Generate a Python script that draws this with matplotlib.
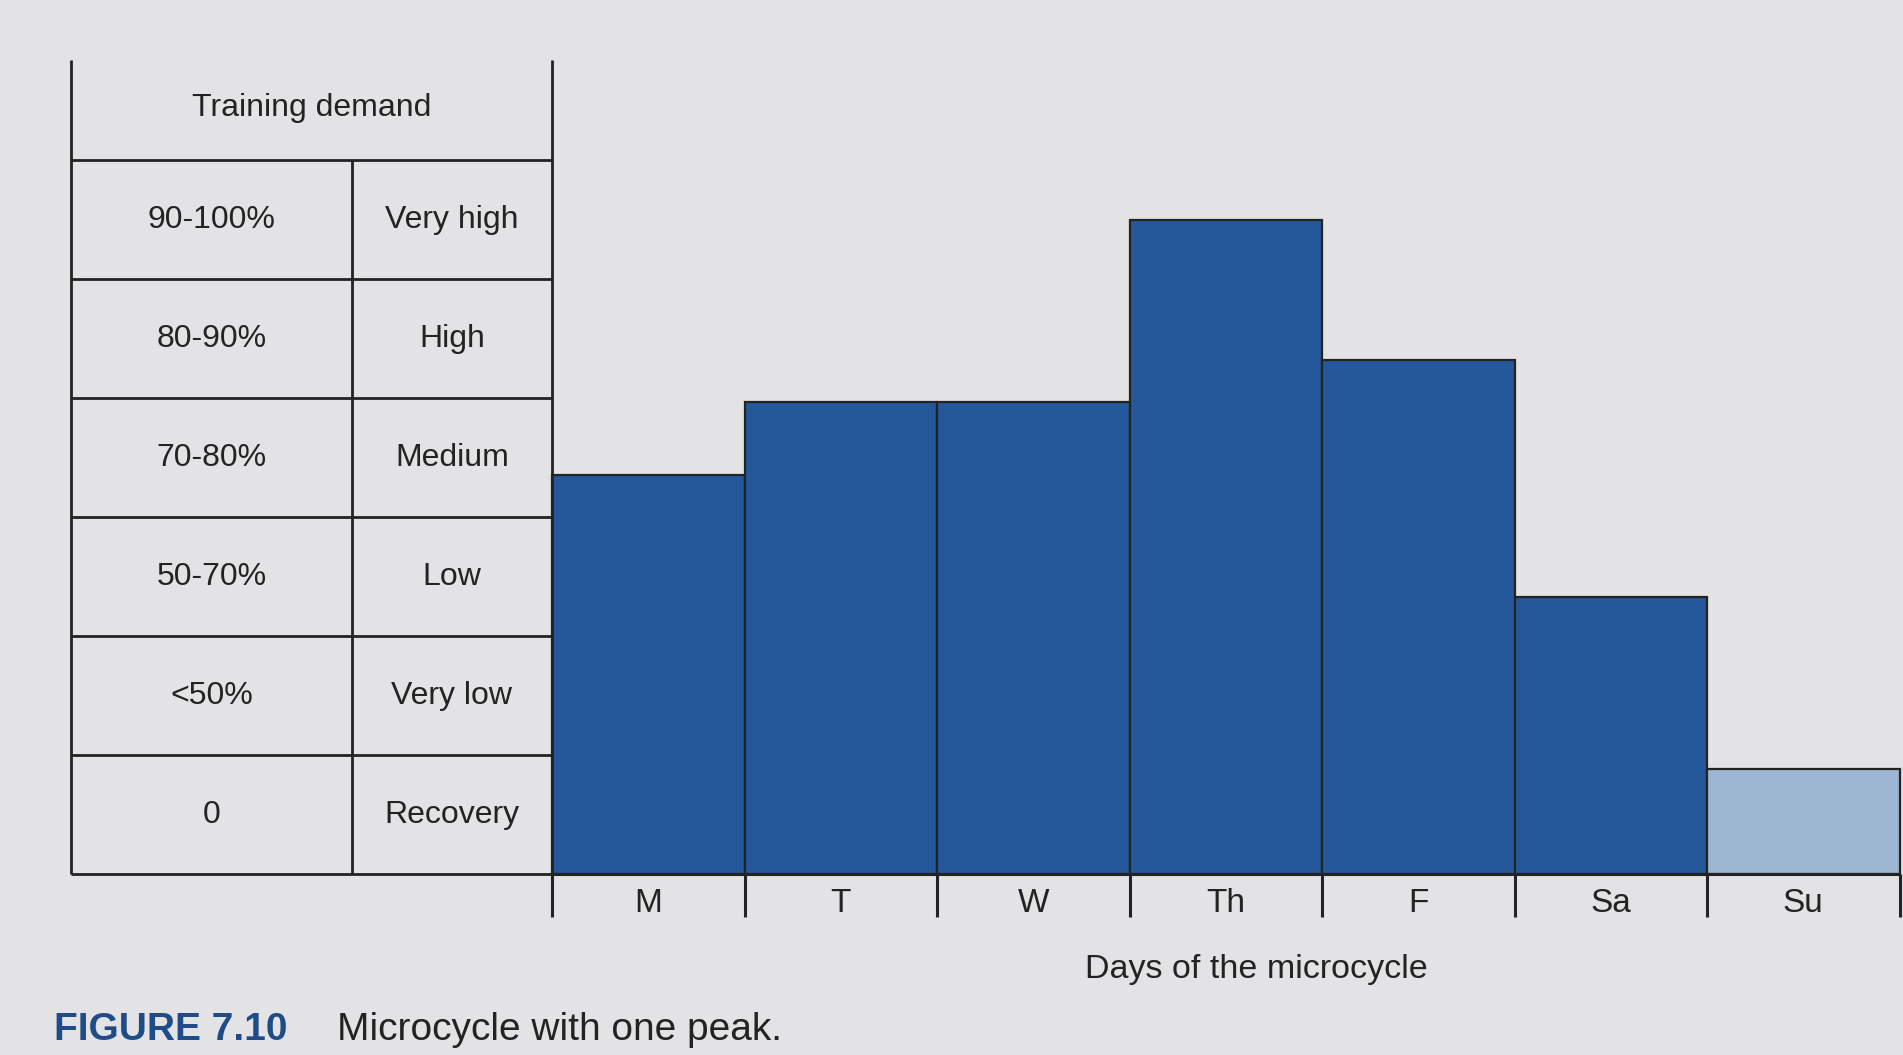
import matplotlib
matplotlib.use('Agg')
import matplotlib.pyplot as plt

# data (bar heights in table-row units: 0 = bottom, 6 = top of "90-100%")
days = ['M', 'T', 'W', 'Th', 'F', 'Sa', 'Su']
demand = [3.35, 3.97, 3.97, 5.5, 4.32, 2.33, 0.88]
bar_colors = ['#24589a'] * 6 + ['#9db6d2']

# table rows, bottom to top
level_pct = ['0', '<50%', '50-70%', '70-80%', '80-90%', '90-100%']
level_name = ['Recovery', 'Very low', 'Low', 'Medium', 'High', 'Very high']
header = 'Training demand'

plt.rcParams['font.family'] = ['Liberation Sans', 'DejaVu Sans']
bg = '#e3e2e4'
ink = '#232323'

fig = plt.figure(figsize=(19.03, 10.55), dpi=100, facecolor=bg)
ax = fig.add_axes([0, 0, 1, 1])
ax.set_facecolor(bg)
ax.set_xlim(-2.868, 7.018)
ax.set_ylim(-1.521, 7.345)
ax.axis('off')

# ============================
# bars
# ============================
x = list(range(len(days)))
ax.bar(x, demand, width=1.0, align='edge', color=bar_colors,
       edgecolor=ink, linewidth=1.6, zorder=2)

# axis line with downward ticks at day boundaries
ax.hlines(0, 0, len(days), color=ink, lw=2.2, zorder=3)
ax.vlines(range(len(days) + 1), -0.36, 0, color=ink, lw=2.2, zorder=3)
for i, d in enumerate(days):
    ax.text(i + 0.5, -0.25, d, ha='center', va='center', fontsize=24, color=ink)
ax.text(3.66, -0.80, 'Days of the microcycle', ha='center', va='center',
        fontsize=24.5, color=ink)

# ============================
# table on the left
# ============================
t_left, t_mid, t_right = -2.5, -1.04, 0.0
n = len(level_pct)
ax.hlines(range(n + 1), t_left, t_right, color=ink, lw=2.0)
ax.vlines([t_left, t_right], 0, n + 0.84, color=ink, lw=2.0)
ax.vlines(t_mid, 0, n, color=ink, lw=2.0)
for i in range(n):
    ax.text((t_left + t_mid) / 2, i + 0.5, level_pct[i], ha='center',
            va='center', fontsize=23, color=ink)
    ax.text((t_mid + t_right) / 2, i + 0.5, level_name[i], ha='center',
            va='center', fontsize=23, color=ink)
ax.text((t_left + t_right) / 2, n + 0.44, header, ha='center', va='center',
        fontsize=23, color=ink)

# caption
ax.text(-2.585, -1.31, 'FIGURE 7.10', ha='left', va='center', fontsize=28,
        fontweight='bold', color='#1f4c86')
ax.text(-1.116, -1.31, 'Microcycle with one peak.', ha='left', va='center',
        fontsize=28, color=ink)

fig.savefig('out.png', dpi=100, facecolor=bg)
plt.close(fig)
